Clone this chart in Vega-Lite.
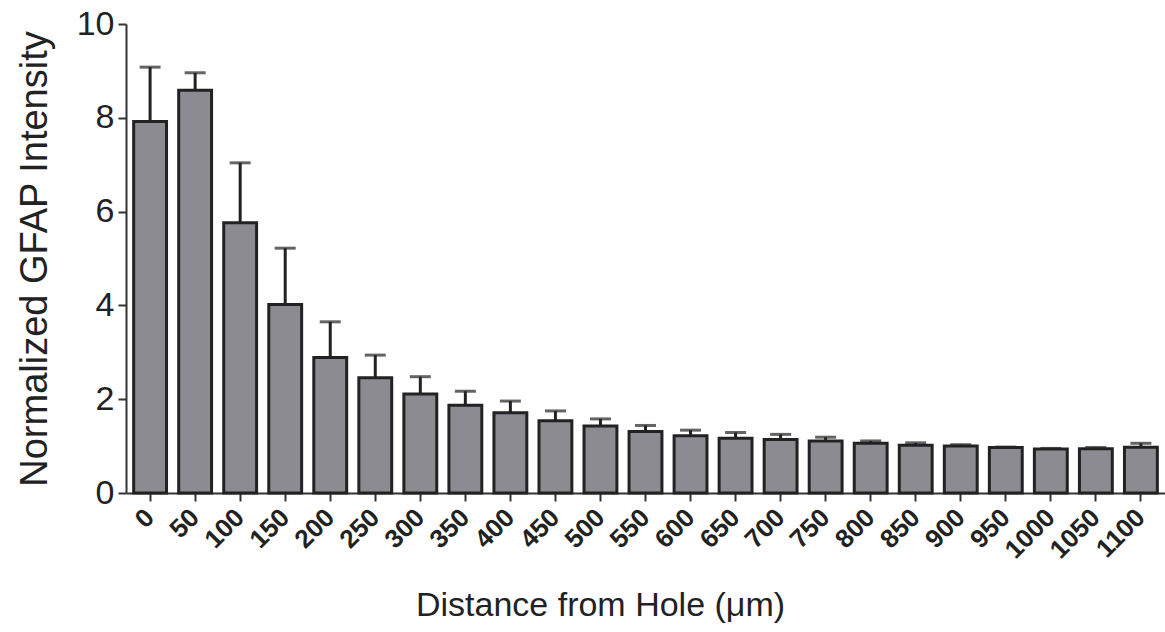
{
  "$schema": "https://vega.github.io/schema/vega-lite/v6.json",
  "width": 1039,
  "height": 469,
  "autosize": {"type": "none"},
  "padding": {"left": 126, "top": 24, "right": 0, "bottom": 139},
  "background": "white",
  "config": {
    "view": {"stroke": null},
    "font": "Liberation Sans",
    "axis": {"grid": false, "domainColor": "#333333", "tickColor": "#333333", "labelColor": "#222222", "titleColor": "#222222", "titleFontWeight": "normal"}
  },
  "data": {
    "values": [
      {"d": "0", "v": 7.92, "e": 9.08},
      {"d": "50", "v": 8.59, "e": 8.96},
      {"d": "100", "v": 5.76, "e": 7.04},
      {"d": "150", "v": 4.02, "e": 5.22},
      {"d": "200", "v": 2.89, "e": 3.65},
      {"d": "250", "v": 2.46, "e": 2.94},
      {"d": "300", "v": 2.11, "e": 2.48},
      {"d": "350", "v": 1.87, "e": 2.17},
      {"d": "400", "v": 1.71, "e": 1.96},
      {"d": "450", "v": 1.54, "e": 1.75},
      {"d": "500", "v": 1.43, "e": 1.58},
      {"d": "550", "v": 1.31, "e": 1.44},
      {"d": "600", "v": 1.22, "e": 1.34},
      {"d": "650", "v": 1.17, "e": 1.29},
      {"d": "700", "v": 1.14, "e": 1.25},
      {"d": "750", "v": 1.11, "e": 1.19},
      {"d": "800", "v": 1.06, "e": 1.11},
      {"d": "850", "v": 1.02, "e": 1.07},
      {"d": "900", "v": 1.0, "e": 1.03},
      {"d": "950", "v": 0.97, "e": 0.98},
      {"d": "1000", "v": 0.94, "e": 0.95},
      {"d": "1050", "v": 0.945, "e": 0.97},
      {"d": "1100", "v": 0.975, "e": 1.06}
    ]
  },
  "encoding": {
    "x": {
      "field": "d", "type": "ordinal", "sort": null,
      "scale": {"paddingInner": 0.27, "paddingOuter": 0.17},
      "axis": {
        "title": "Distance from Hole (μm)",
        "titleFontSize": 34, "titleX": 474, "titleY": 95, "titleBaseline": "top", "titleAnchor": "middle", "titleAlign": "center",
        "labelAngle": -45, "labelFontSize": 26, "labelFontWeight": "bold",
        "labelAlign": "right", "labelBaseline": "middle", "labelPadding": 12,
        "tickSize": 8, "tickWidth": 2, "domainWidth": 2
      }
    }
  },
  "layer": [
    {
      "mark": {"type": "rule", "strokeWidth": 3, "color": "#222222"},
      "encoding": {
        "y": {"field": "v", "type": "quantitative"},
        "y2": {"field": "e"}
      }
    },
    {
      "mark": {"type": "tick", "size": 21, "thickness": 3, "color": "#222222"},
      "encoding": {
        "y": {"field": "e", "type": "quantitative"}
      }
    },
    {
      "mark": {"type": "bar", "fill": "#8b8b91", "stroke": "#222222", "strokeWidth": 3},
      "encoding": {
        "y": {
          "field": "v", "type": "quantitative",
          "scale": {"domain": [0, 10], "nice": false},
          "axis": {
            "title": "Normalized GFAP Intensity",
            "titleFontSize": 38, "titlePadding": 22,
            "values": [0, 2, 4, 6, 8, 10],
            "labelFontSize": 34, "labelPadding": 4,
            "tickSize": 8, "tickWidth": 2, "domainWidth": 2
          }
        }
      }
    }
  ]
}
